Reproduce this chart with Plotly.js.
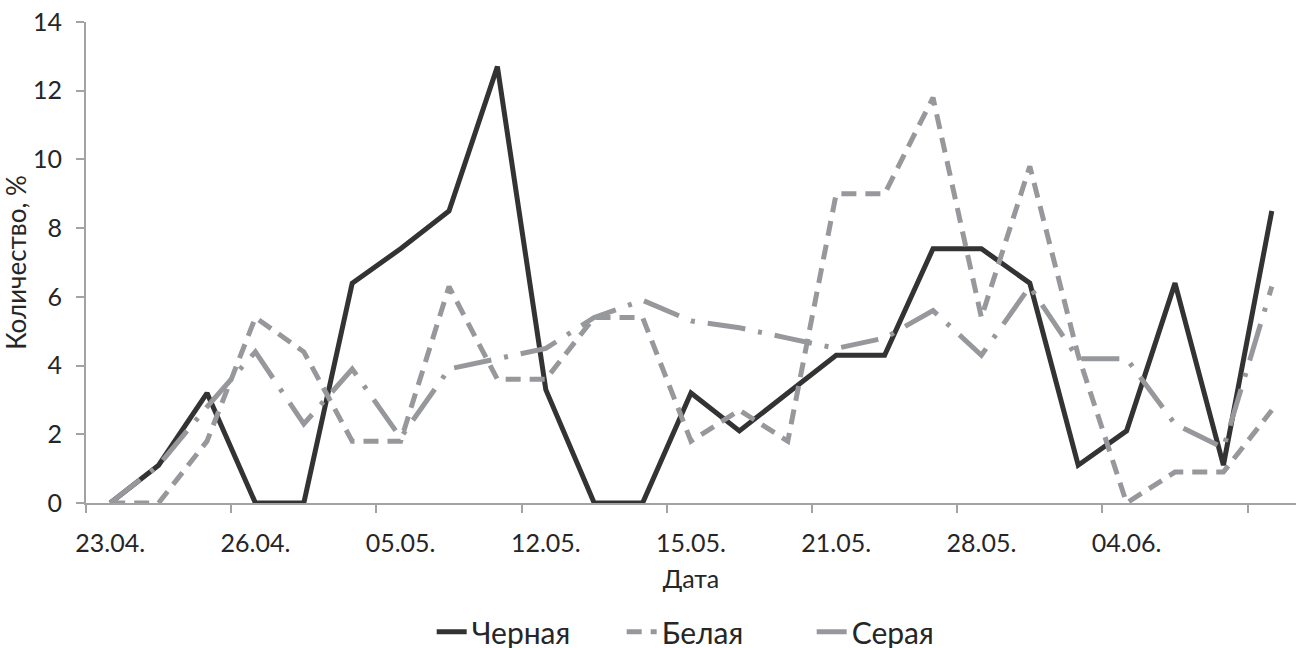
<!DOCTYPE html>
<html>
<head>
<meta charset="utf-8">
<script src="https://cdn.plot.ly/plotly-3.0.1.min.js"></script>
<style>html,body{margin:0;padding:0;background:#fff;}#chart{width:1296px;height:648px;}</style>
</head>
<body>
<div id="chart"></div>
<script>
// x positions are category indices; only every third category carries a label
const categoryIndex = [0,1,2,3,4,5,6,7,8,9,10,11,12,13,14,15,16,17,18,19,20,21,22,23,24];
const tickPositions = [0,3,6,9,12,15,18,21];
const tickLabels = ["23.04.","26.04.","05.05.","12.05.","15.05.","21.05.","28.05.","04.06."];

const seriesNames = ["Черная","Белая","Серая"];
const blackValues = [0,1.1,3.2,0,0,6.4,7.4,8.5,12.7,3.3,0,0,3.2,2.1,3.2,4.3,4.3,7.4,7.4,6.4,1.1,2.1,6.4,1.1,8.5];
const whiteValues = [0,0,1.8,5.4,4.4,1.8,1.8,6.3,3.6,3.6,5.4,5.4,1.8,2.7,1.8,9.0,9.0,11.8,5.4,9.8,4.3,0,0.9,0.9,2.7];
const greyValues  = [0,1.1,2.8,4.4,2.3,3.9,1.9,3.9,4.2,4.5,5.4,5.9,5.3,5.1,4.8,4.5,4.8,5.6,4.3,6.3,4.2,4.2,2.3,1.6,6.3];

const FONT = "Lato, 'Open Sans', sans-serif";
const axisGrey = "#a3a3a3";
const textCol = "#262626";

const traces = [
  {x: categoryIndex, y: blackValues, name: seriesNames[0], mode: "lines",
   line: {color: "#333333", width: 5}},
  {x: categoryIndex, y: whiteValues, name: seriesNames[1], mode: "lines",
   line: {color: "#97989c", width: 5, dash: "15px,9px"}},
  {x: categoryIndex, y: greyValues, name: seriesNames[2], mode: "lines",
   line: {color: "#97989c", width: 5, dash: "38px,13px,4px,13px"}}
];

const layout = {
  width: 1296, height: 648,
  margin: {l: 86, r: 0, t: 22, b: 145},
  paper_bgcolor: "#ffffff", plot_bgcolor: "#ffffff",
  font: {family: FONT, color: textCol, size: 24},
  showlegend: true,
  legend: {orientation: "h", xref: "container", yref: "container",
           x: 0.553, xanchor: "center", y: 0.025, yanchor: "middle",
           font: {size: 30, color: textCol}, traceorder: "normal",
           entrywidth: 145, entrywidthmode: "pixels"},
  xaxis: {
    range: [-0.5, 24.5], showgrid: false, zeroline: false, automargin: false,
    showline: true, linecolor: axisGrey, linewidth: 2,
    tickmode: "array", tickvals: tickPositions, ticktext: tickLabels,
    ticks: "", ticklabelstandoff: 17,
    tickfont: {size: 25, color: textCol},
    minor: {tickmode: "linear", tick0: -0.5, dtick: 3, ticks: "outside", ticklen: 8,
            tickwidth: 2, tickcolor: axisGrey, showgrid: false},
    title: {text: "Дата", font: {size: 25, color: textCol}, standoff: 14},
    fixedrange: true
  },
  yaxis: {
    range: [0, 14], dtick: 2, showgrid: false, zeroline: false, automargin: false,
    showline: true, linecolor: axisGrey, linewidth: 2,
    ticks: "outside", ticklen: 8, tickwidth: 2, tickcolor: axisGrey,
    ticklabelstandoff: 9,
    tickfont: {size: 25, color: textCol},
    title: {text: "Количество, %", font: {size: 26, color: textCol}, standoff: 4},
    fixedrange: true
  }
};

Plotly.newPlot("chart", traces, layout, {displayModeBar: false, staticPlot: true});
</script>
</body>
</html>
